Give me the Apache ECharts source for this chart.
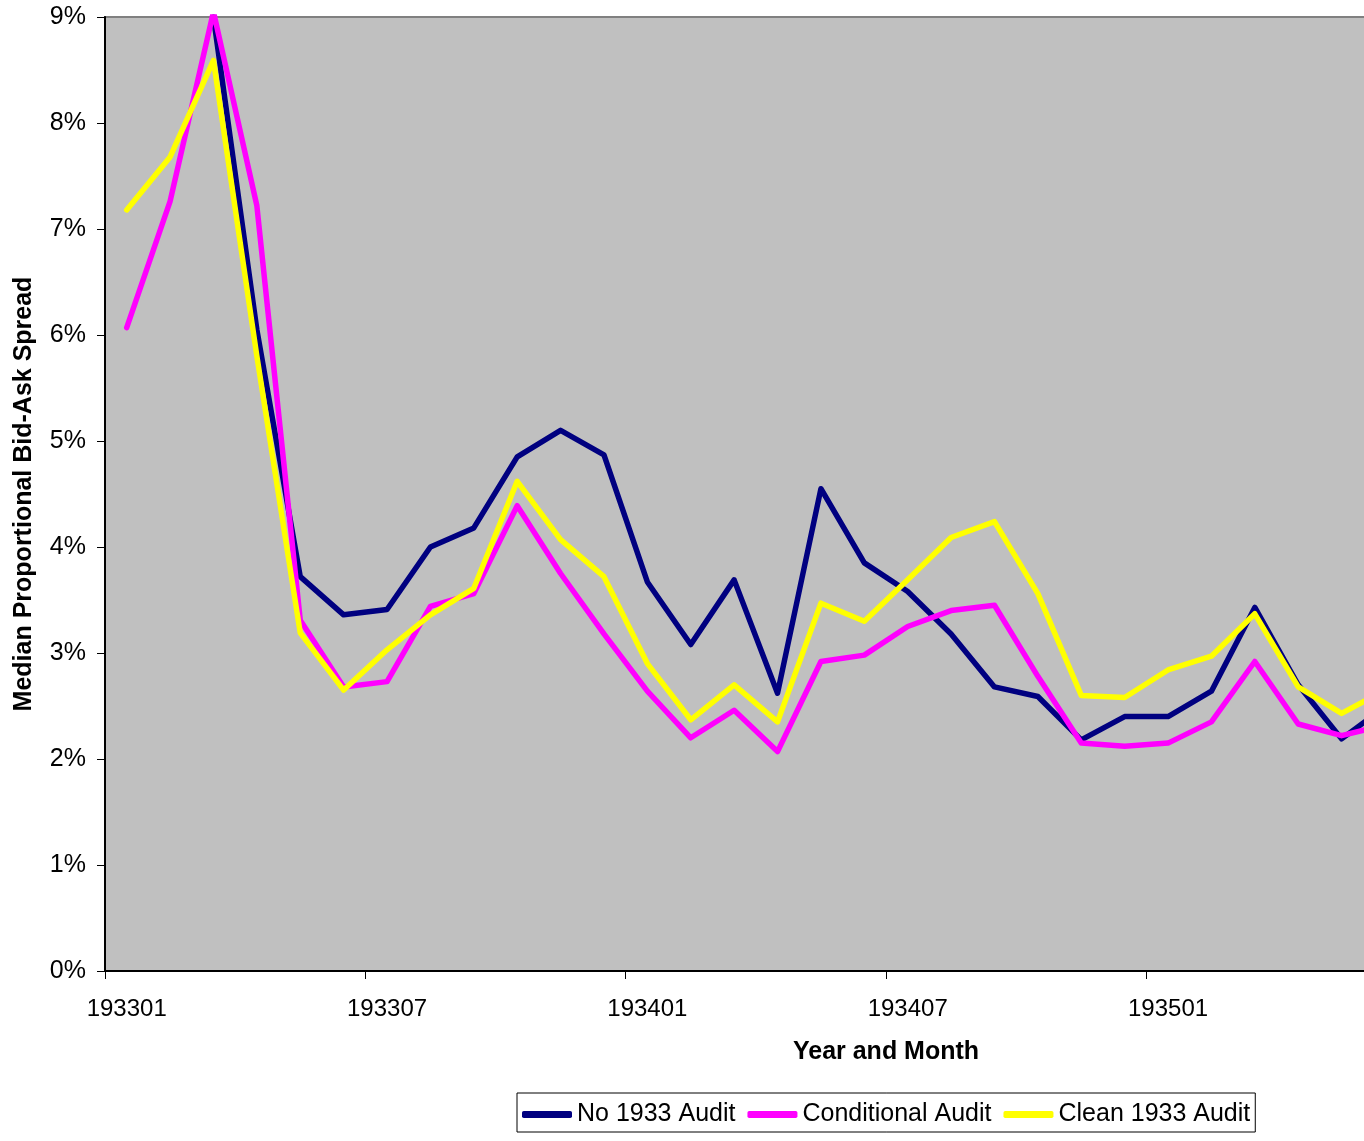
<!DOCTYPE html>
<html>
<head>
<meta charset="utf-8">
<title>Median Proportional Bid-Ask Spread</title>
<script src="https://cdn.jsdelivr.net/npm/echarts@6/dist/echarts.min.js"></script>
<style>
  html, body { margin: 0; padding: 0; background: #fff; }
  #chart { width: 1364px; height: 1141px; }
</style>
</head>
<body>
<div id="chart"></div>
<script>
// Months 1933-01 .. 1935-12 (year and month codes)
var months = [
  '193301','193302','193303','193304','193305','193306','193307','193308','193309','193310','193311','193312',
  '193401','193402','193403','193404','193405','193406','193407','193408','193409','193410','193411','193412',
  '193501','193502','193503','193504','193505','193506','193507','193508','193509','193510','193511','193512'
];

// Median proportional bid-ask spread, in percent
var noAudit = [
  null, null, 9.00, 6.05, 3.72, 3.36, 3.41, 4.00, 4.18, 4.85, 5.10, 4.87,
  3.67, 3.08, 3.69, 2.62, 4.55, 3.85, 3.58, 3.18, 2.68, 2.59, 2.18, 2.40,
  2.40, 2.64, 3.43, 2.70, 2.19, 2.49
];
var conditionalAudit = [
  6.07, 7.26, 9.05, 7.22, 3.31, 2.68, 2.73, 3.44, 3.56, 4.39, 3.75, 3.18,
  2.64, 2.20, 2.46, 2.07, 2.92, 2.98, 3.25, 3.40, 3.45, 2.78, 2.15, 2.12,
  2.15, 2.35, 2.92, 2.33, 2.22, 2.32
];
var cleanAudit = [
  7.18, 7.68, 8.59, 5.80, 3.19, 2.65, 3.03, 3.36, 3.61, 4.62, 4.07, 3.72,
  2.90, 2.37, 2.70, 2.35, 3.47, 3.30, 3.69, 4.09, 4.24, 3.56, 2.60, 2.58,
  2.84, 2.97, 3.37, 2.68, 2.43, 2.65
];

var seriesNames = ['No 1933 Audit', 'Conditional Audit', 'Clean 1933 Audit'];
var seriesColors = ['#000080', '#FF00FF', '#FFFF00'];

var FONT = 'Arial, "Liberation Sans", sans-serif';

function lineSeries(name, data, color) {
  return {
    name: name,
    type: 'line',
    data: data,
    showSymbol: false,
    symbol: 'none',
    clip: true,
    connectNulls: false,
    color: color,
    lineStyle: { color: color, width: 5.5, cap: 'round', join: 'round' },
    emphasis: { disabled: true }
  };
}

var chart = echarts.init(document.getElementById('chart'), null, { renderer: 'canvas' });

chart.setOption({
  animation: false,
  backgroundColor: '#ffffff',
  textStyle: { fontFamily: FONT, color: '#000' },
  grid: {
    left: 105,
    top: 17,
    right: -303,
    bottom: 170,
    outerBoundsMode: 'none',
    show: true,
    backgroundColor: '#C0C0C0',
    borderColor: '#808080',
    borderWidth: 2,
    containLabel: false
  },
  legend: {
    data: seriesNames,
    left: 517,
    top: 1093,
    orient: 'horizontal',
    icon: 'roundRect',
    itemWidth: 50,
    itemHeight: 7,
    itemGap: 12,
    padding: [9, 5, 5, 5],
    backgroundColor: '#ffffff',
    borderColor: '#000000',
    borderWidth: 1,
    borderRadius: 0,
    selectedMode: false,
    textStyle: { fontFamily: FONT, fontSize: 25, color: '#000', lineHeight: 25 }
  },
  xAxis: {
    type: 'category',
    data: months,
    boundaryGap: true,
    name: 'Year and Month',
    nameLocation: 'middle',
    nameGap: 69,
    nameTextStyle: { fontFamily: FONT, fontSize: 25, fontWeight: 'bold', color: '#000' },
    axisLine: { show: true, onZero: false, lineStyle: { color: '#000', width: 2 } },
    axisTick: { show: true, interval: 5, length: 8, inside: false, lineStyle: { color: '#000', width: 1 } },
    axisLabel: { interval: 5, margin: 26, fontFamily: FONT, fontSize: 24, color: '#000' },
    splitLine: { show: false }
  },
  yAxis: {
    type: 'value',
    min: 0,
    max: 9,
    interval: 1,
    name: 'Median Proportional Bid-Ask Spread',
    nameLocation: 'middle',
    nameGap: 68,
    nameRotate: 90,
    nameTextStyle: { fontFamily: FONT, fontSize: 25, fontWeight: 'bold', color: '#000' },
    axisLine: { show: true, lineStyle: { color: '#000', width: 2 } },
    axisTick: { show: true, length: 8, inside: false, lineStyle: { color: '#000', width: 1 } },
    axisLabel: { margin: 19, fontFamily: FONT, fontSize: 25, color: '#000', formatter: '{value}%' },
    splitLine: { show: false }
  },
  series: [
    lineSeries(seriesNames[0], noAudit, seriesColors[0]),
    lineSeries(seriesNames[1], conditionalAudit, seriesColors[1]),
    lineSeries(seriesNames[2], cleanAudit, seriesColors[2])
  ]
});
</script>
</body>
</html>
